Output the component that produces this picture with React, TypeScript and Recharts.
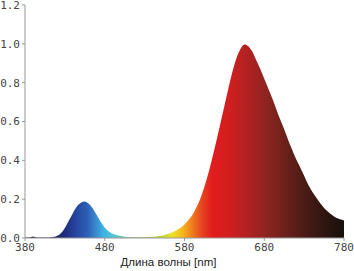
import React from 'react';
import { AreaChart, Area, XAxis, YAxis } from 'recharts';

// wavelength grid (nm) and relative intensity
const wavelengths = [
  380, 385, 390, 395, 400, 405, 410, 415, 420, 425, 430, 435, 440, 445, 450, 455, 460, 465, 470, 475,
  480, 485, 490, 495, 500, 505, 510, 515, 520, 525, 530, 535, 540, 545, 550, 555, 560, 565, 570, 575,
  580, 585, 590, 595, 600, 605, 610, 615, 620, 625, 630, 635, 640, 645, 650, 655, 660, 665, 670, 675,
  680, 685, 690, 695, 700, 705, 710, 715, 720, 725, 730, 735, 740, 745, 750, 755, 760, 765, 770, 775,
  780,
];

const intensity = [
  0.002, 0.003, 0.008, 0.003, 0.002, 0.002, 0.003, 0.005, 0.01, 0.025, 0.052, 0.09, 0.128, 0.162, 0.182, 0.188, 0.176, 0.152, 0.118, 0.083,
  0.053, 0.034, 0.022, 0.015, 0.01, 0.007, 0.005, 0.004, 0.004, 0.004, 0.004, 0.005, 0.006, 0.008, 0.011, 0.016, 0.022, 0.03, 0.04, 0.053,
  0.07, 0.093, 0.12, 0.158, 0.205, 0.265, 0.335, 0.415, 0.5, 0.59, 0.68, 0.77, 0.855, 0.925, 0.972, 0.997, 0.988, 0.96, 0.915, 0.87,
  0.82, 0.77, 0.72, 0.665, 0.61, 0.56, 0.505, 0.455, 0.405, 0.365, 0.32, 0.275, 0.24, 0.21, 0.18, 0.155, 0.135, 0.118, 0.104, 0.096,
  0.09,
];

const xTicks = [380, 480, 580, 680, 780];
const yTicks = [0, 0.2, 0.4, 0.6, 0.8, 1.0, 1.2];

// spectrum colours by wavelength
const colorStops: [number, string][] = [
  [380, '#1a1a2a'],
  [415, '#1a1f55'],
  [430, '#1f2d80'],
  [445, '#2748a0'],
  [458, '#2c5fb4'],
  [468, '#3a86cc'],
  [478, '#3cb2e4'],
  [490, '#55c4d8'],
  [505, '#7cc4a0'],
  [525, '#98c860'],
  [550, '#bcd43a'],
  [566, '#eee024'],
  [578, '#f4b420'],
  [590, '#ef7a1e'],
  [603, '#e64020'],
  [615, '#e21c1c'],
  [635, '#d21e1e'],
  [660, '#b02222'],
  [685, '#8a2420'],
  [715, '#5e1f19'],
  [745, '#3a1812'],
  [780, '#16100c'],
];

const data = wavelengths.map((w, i) => ({ wl: w, value: intensity[i] }));

const tickFont = { fontFamily: '"DejaVu Sans Mono", monospace', fontSize: 11, fill: '#444' };

export default function App() {
  return (
    <div style={{ position: 'absolute', left: 0, top: 0, width: 354, height: 271, background: '#fff' }}>
      <AreaChart width={354} height={271} data={data} margin={{ top: 5, right: 10, left: 0, bottom: 0 }}>
        <defs>
          <linearGradient id="spec" x1="0" y1="0" x2="1" y2="0">
            {colorStops.map(([w, c]) => (
              <stop key={w} offset={(w - 380) / 400} stopColor={c} />
            ))}
          </linearGradient>
        </defs>
        <XAxis
          dataKey="wl"
          type="number"
          domain={[380, 780]}
          ticks={xTicks}
          interval={0}
          tick={tickFont}
          tickSize={3}
          tickLine={{ stroke: '#999' }}
          axisLine={{ stroke: '#999' }}
          height={33}
          label={{
            value: 'Длина волны [nm]',
            position: 'insideBottom',
            offset: 5,
            dx: -16,
            style: { fontFamily: '"Liberation Sans", Arial, sans-serif', fontSize: 11.5, fill: '#222' },
          }}
        />
        <YAxis
          type="number"
          domain={[0, 1.2]}
          ticks={yTicks}
          interval={0}
          tickFormatter={(v: number) => v.toFixed(1)}
          tick={tickFont}
          tickSize={3}
          tickLine={{ stroke: '#999' }}
          axisLine={{ stroke: '#999' }}
          width={25}
        />
        <Area
          type="monotone"
          dataKey="value"
          stroke="none"
          fill="url(#spec)"
          fillOpacity={1}
          isAnimationActive={false}
          dot={false}
          activeDot={false}
        />
      </AreaChart>
    </div>
  );
}
